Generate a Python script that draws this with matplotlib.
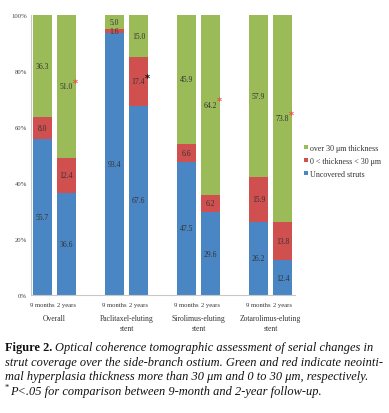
import matplotlib
matplotlib.use("Agg")
import matplotlib.pyplot as plt
import numpy as np

groups = ["Overall", "Paclitaxel-eluting\nstent", "Sirolimus-eluting\nstent", "Zotarolimus-eluting\nstent"]
periods = ["9 months", "2 years"]
# values per bar: order = Overall 9m, Overall 2y, Pac 9m, Pac 2y, Sir 9m, Sir 2y, Zot 9m, Zot 2y
uncovered = [55.7, 36.6, 93.4, 67.6, 47.5, 29.6, 26.2, 12.4]
thin = [8.0, 12.4, 1.6, 17.4, 6.6, 6.2, 15.9, 13.8]
thick = [36.3, 51.0, 5.0, 15.0, 45.9, 64.2, 57.9, 73.8]
star_colors = [None, "#e8504a", None, "#111111", None, "#e8504a", None, "#e8504a"]
series_names = ["over 30 \u03bcm thickness", "0 < thickness < 30 \u03bcm", "Uncovered struts"]
yticks = [0, 20, 40, 60, 80, 100]

c_blue = "#4a86c4"
c_red = "#d0504f"
c_green = "#9bbb59"
serif = ["Liberation Serif", "DejaVu Serif"]

fig = plt.figure(figsize=(3.89, 4.14), dpi=100)
ax = fig.add_axes([31/389, 1-296/414, (295-31)/389, 280/414])

x = []
for g in range(len(groups)):
    x += [g - 0.167, g + 0.167]
x = np.array(x)
w = 0.264
u = np.array(uncovered); t = np.array(thin); k = np.array(thick)
b1 = ax.bar(x, u, w, color=c_blue, label=series_names[2])
b2 = ax.bar(x, t, w, bottom=u, color=c_red, label=series_names[1])
b3 = ax.bar(x, k, w, bottom=u+t, color=c_green, label=series_names[0])

for i in range(len(x)):
    for val, bot in [(u[i], 0), (t[i], u[i]), (k[i], u[i]+t[i])]:
        ax.text(x[i], bot + val/2, f"{val:.1f}", ha="center", va="center",
                fontsize=5.5, family=serif, color="#333333")
    if star_colors[i]:
        yc = u[i] + t[i] + k[i]/2 + 1.3
        if i == 3:
            yc = u[i] + t[i]/2 + 1.3
        ax.text(x[i] + w/2 - 0.01, yc, "*", ha="center", va="center",
                fontsize=7, color=star_colors[i], fontweight="bold")

ax.set_xlim(-0.326, 3.34)
ax.set_ylim(0, 100)
ax.set_yticks(yticks)
ax.set_yticklabels([f"{v}%" for v in yticks], family=serif, fontsize=4.8, color="#444444")
ax.tick_params(axis="y", length=0, pad=3)
ax.set_xticks([])
for s in ["top", "right"]:
    ax.spines[s].set_visible(False)
for s in ["left", "bottom"]:
    ax.spines[s].set_color("#c8c8c8")
    ax.spines[s].set_linewidth(0.8)

for i in range(len(x)):
    ax.text(x[i], -2.5, periods[i % 2], ha="center", va="top", fontsize=4.8,
            family=serif, color="#333333", transform=ax.transData)
for g, name in enumerate(groups):
    ax.text(g, -6.8, name, ha="center", va="top", fontsize=5.5, family=serif,
            color="#333333", linespacing=1.3)

handles = [b3, b2, b1]
leg = fig.legend(handles, series_names, loc="upper left", bbox_to_anchor=(300/389, 1-141/414),
                 frameon=False, prop={"family": serif, "size": 5.8},
                 handlelength=0.5, handleheight=0.5, handletextpad=0.3, labelspacing=0.6,
                 borderpad=0)
for txt in leg.get_texts():
    txt.set_color("#333333")

cap_y = 1 - 342/414
fs = 8.9
step = 14.6/414
x0 = 5/389
lines = [
    "Optical coherence tomographic assessment of serial changes in",
    "strut coverage over the side-branch ostium. Green and red indicate neointi-",
    "mal hyperplasia thickness more than 30 \u03bcm and 0 to 30 \u03bcm, respectively.",
    "P<.05 for comparison between 9-month and 2-year follow-up.",
]
t0 = fig.text(x0, cap_y, "Figure 2.", fontsize=fs, fontweight="bold", family=serif,
              va="top", ha="left", color="#111111")
fig.canvas.draw()
bb = t0.get_window_extent()
fig.text((bb.x1 + 3)/389, cap_y, lines[0], fontsize=fs, style="italic", family=serif,
         va="top", ha="left", color="#111111")
for j, ln in enumerate(lines[1:3]):
    fig.text(x0, cap_y - (j+1)*step, ln, fontsize=fs, style="italic", family=serif,
             va="top", ha="left", color="#111111")
ts = fig.text(x0, cap_y - 3*step + 2/414, "*", fontsize=6, family=serif,
              va="top", ha="left", color="#111111")
fig.canvas.draw()
bs = ts.get_window_extent()
fig.text((bs.x1 + 0.5)/389, cap_y - 3*step, lines[3], fontsize=fs, style="italic", family=serif,
         va="top", ha="left", color="#111111")

fig.savefig("out.png", dpi=100)
